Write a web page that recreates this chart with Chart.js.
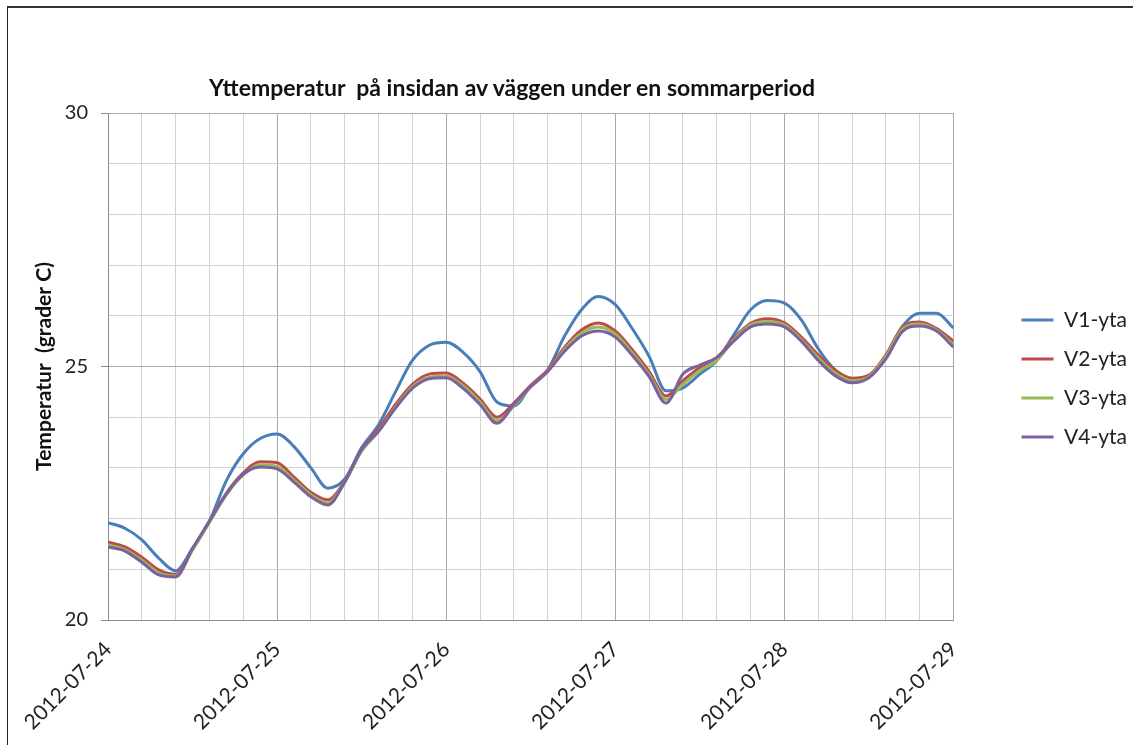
<!DOCTYPE html>
<html>
<head>
<meta charset="utf-8">
<script src="https://cdn.jsdelivr.net/npm/chart.js@4.4.0/dist/chart.umd.min.js"></script>
<style>
  html, body { margin: 0; padding: 0; background: #fff; }
  #wrap { position: relative; width: 1133px; height: 745px; overflow: hidden; }
  #frame { position: absolute; left: 7px; top: 6px; right: -5px; bottom: -5px; border-top: 2px solid #333; border-left: 1px solid #222; }
  #title { position: absolute; left: 0; width: 1024px; top: 73px; text-align: center; font: bold 23px Lato, sans-serif; color: #111; white-space: pre; }
  canvas { position: absolute; left: 0; top: 0; }
</style>
</head>
<body>
<div id="wrap">
  <div id="frame"></div>
  <canvas id="myChart" width="1133" height="745"></canvas>
  <div id="title">Yttemperatur  på insidan av väggen under en sommarperiod</div>
</div>
<script>
// time in days after 2012-07-24 00:00
var days = [0.0, 0.1, 0.2, 0.3, 0.4, 0.5, 0.6, 0.7, 0.8, 0.9,
            1.0, 1.1, 1.2, 1.3, 1.4, 1.5, 1.6, 1.7, 1.8, 1.9,
            2.0, 2.1, 2.2, 2.3, 2.4, 2.5, 2.6, 2.7, 2.8, 2.9,
            3.0, 3.1, 3.2, 3.3, 3.4, 3.5, 3.6, 3.7, 3.8, 3.9,
            4.0, 4.1, 4.2, 4.3, 4.4, 4.5, 4.6, 4.7, 4.8, 4.9, 5.0]

var dayLabels = ["2012-07-24", "2012-07-25", "2012-07-26", "2012-07-27", "2012-07-28", "2012-07-29"]
var seriesNames = ["V1-yta", "V2-yta", "V3-yta", "V4-yta"]

var v1 = [21.92, 21.81, 21.58, 21.22, 20.97, 21.42, 21.95, 22.75, 23.28, 23.58,
          23.67, 23.42, 23.00, 22.60, 22.78, 23.40, 23.85, 24.50, 25.12, 25.42,
          25.48, 25.28, 24.90, 24.30, 24.22, 24.62, 24.93, 25.60, 26.12, 26.38,
          26.22, 25.75, 25.20, 24.52, 24.58, 24.85, 25.12, 25.62, 26.12, 26.30,
          26.25, 25.92, 25.35, 24.93, 24.72, 24.80, 25.20, 25.80, 26.05, 26.05, 25.76]

var v2 = [21.54, 21.44, 21.24, 20.99, 20.90, 21.40, 21.95, 22.50, 22.90, 23.12,
          23.10, 22.82, 22.52, 22.37, 22.74, 23.36, 23.77, 24.25, 24.65, 24.85,
          24.87, 24.67, 24.36, 24.00, 24.28, 24.63, 24.93, 25.38, 25.72, 25.86,
          25.70, 25.33, 24.90, 24.42, 24.72, 24.98, 25.17, 25.55, 25.85, 25.94,
          25.86, 25.58, 25.23, 24.93, 24.77, 24.83, 25.23, 25.78, 25.88, 25.75, 25.50]

var v3 = [21.48, 21.39, 21.18, 20.93, 20.87, 21.38, 21.93, 22.47, 22.86, 23.06,
          23.03, 22.76, 22.47, 22.31, 22.72, 23.33, 23.72, 24.20, 24.60, 24.79,
          24.81, 24.62, 24.30, 23.93, 24.22, 24.60, 24.90, 25.34, 25.66, 25.78,
          25.64, 25.27, 24.84, 24.35, 24.65, 24.92, 25.12, 25.52, 25.82, 25.89,
          25.82, 25.53, 25.17, 24.87, 24.72, 24.80, 25.20, 25.74, 25.84, 25.72, 25.43]

var v4 = [21.44, 21.36, 21.14, 20.89, 20.85, 21.41, 21.95, 22.49, 22.88, 23.02,
          22.98, 22.72, 22.43, 22.27, 22.72, 23.36, 23.72, 24.18, 24.57, 24.76,
          24.78, 24.57, 24.25, 23.88, 24.25, 24.60, 24.90, 25.30, 25.60, 25.70,
          25.58, 25.22, 24.80, 24.28, 24.85, 25.03, 25.18, 25.50, 25.78, 25.84,
          25.78, 25.50, 25.12, 24.82, 24.68, 24.78, 25.15, 25.70, 25.80, 25.70, 25.38]

var colors = ["#4a7ebb", "#be4b48", "#98b954", "#7d60a0"]

function isWhole(v) {
    return Math.abs(v - Math.round(v)) < 1e-6
}

function points(values) {
    return days.map(function (d, i) { return { x: d, y: values[i] } })
}

var allSeries = [v1, v2, v3, v4]
var datasets = []
allSeries.forEach(function (s, i) {
    datasets.push({
        label: seriesNames[i],
        data: points(s),
        borderColor: colors[i],
        backgroundColor: colors[i],
        borderWidth: 3,
        pointRadius: 0,
        cubicInterpolationMode: 'monotone',
        order: 4 - i   // V4 drawn on top, like the original
    })
})

var fontName = "Lato, 'Open Sans', sans-serif"

var myCharts = document.getElementById("myChart").getContext("2d")
var chart = new Chart(myCharts, {
    type: 'line',
    data: { datasets: datasets },
    options: {
        responsive: false,
        animation: false,
        layout: { padding: { top: 113, bottom: 0, left: 0, right: -4 } },
        plugins: {
            title: { display: false },
            tooltip: { enabled: false },
            legend: {
                position: 'right',
                fullSize: false,
                title: { display: true, text: ' ', font: { size: 10 }, padding: 6 },
                labels: {
                    usePointStyle: true,
                    pointStyle: 'line',
                    pointStyleWidth: 32,
                    padding: 18,
                    color: '#222',
                    font: { family: fontName, size: 21 },
                    sort: function (a, b) { return a.datasetIndex - b.datasetIndex }
                }
            }
        },
        scales: {
            x: {
                type: 'linear',
                min: 0,
                max: 5,
                ticks: {
                    stepSize: 0.2,
                    autoSkip: false,
                    minRotation: 45,
                    maxRotation: 45,
                    padding: 17,
                    color: '#222',
                    font: { family: fontName, size: 21 },
                    callback: function (v) { return isWhole(v) ? dayLabels[Math.round(v)] : '' }
                },
                grid: {
                    drawTicks: false,
                    color: function (c) { return isWhole(c.tick.value) ? '#a8a8a8' : '#d2d2d2' }
                },
                border: { color: '#8c8c8c' },
                afterFit: function (s) { s.height = 125 }
            },
            y: {
                min: 20,
                max: 30,
                ticks: {
                    stepSize: 1,
                    autoSkip: false,
                    padding: 13,
                    color: '#222',
                    font: { family: fontName, size: 20 },
                    callback: function (v) { return v % 5 === 0 ? String(v) : '' }
                },
                grid: {
                    tickLength: 7,
                    color: function (c) { return c.tick.value % 5 === 0 ? '#a8a8a8' : '#d2d2d2' },
                    tickColor: function (c) { return c.tick.value % 5 === 0 ? '#8c8c8c' : 'rgba(0,0,0,0)' }
                },
                border: { color: '#8c8c8c' },
                title: {
                    display: true,
                    text: 'Temperatur  (grader C)',
                    color: '#111',
                    font: { family: fontName, size: 21, weight: 'bold' },
                    padding: { top: 32, bottom: 0 }
                },
                afterFit: function (s) { s.width = 108 }
            },
            // empty axis, only keeps the gap between plot and legend
            yR: {
                position: 'right',
                min: 0,
                max: 1,
                grid: { display: false, drawOnChartArea: false },
                ticks: { display: false },
                border: { display: false },
                afterFit: function (s) { s.width = 50 }
            }
        }
    }
})
</script>
</body>
</html>
